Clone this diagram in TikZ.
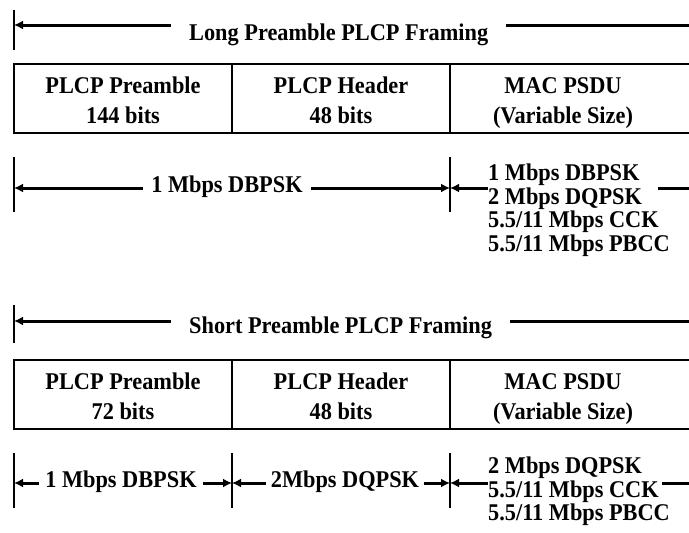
\documentclass[tikz,border=0pt]{standalone}
\usepackage{fontspec}
\setmainfont{Liberation Serif}[FakeStretch=0.93]
\usetikzlibrary{arrows.meta,calc}
\newcommand\cellTopStrut{\rule{0pt}{25pt}}
\newcommand\cellBotStrut{\rule[-6pt]{0pt}{6pt}}
\begin{document}
\begin{tikzpicture}[x=1pt,y=-1pt,
  lbl/.style={font=\bfseries\fontsize{24}{30}\selectfont, inner ysep=0pt},
  cell/.style={line width=2pt, minimum height=69pt, minimum width=218pt, outer sep=0pt,
    font=\bfseries\fontsize{24}{30}\selectfont, align=center, inner sep=0pt},
  boxline/.style={line width=2pt},
  tickline/.style={line width=1.5pt},
  dim/.style={line width=3pt, -{Latex[length=9pt,width=9pt]}},
  bar/.style={line width=3pt},
  list/.style={font=\bfseries\fontsize{24}{23.5}\selectfont, align=left, inner sep=0pt, anchor=north west},
]
\useasboundingbox (0,0) rectangle (689,533);

% ---------- Long preamble ----------
\coordinate (k1) at (14,25);
\coordinate (k1t) at (14,10);
\coordinate (k1b) at (14,50);
\coordinate (e1) at (689,25);
\draw[tickline] (k1t) -- (k1b);
\node[lbl, anchor=base west, inner xsep=18pt] (t1) at (171,40) {Long Preamble PLCP Framing};
\draw[dim] (t1.west |- k1) -- (k1);
\draw[bar] (t1.east |- k1) -- (e1);

\node[cell, draw] (c11) at (123,98.5) {\cellTopStrut PLCP Preamble\\144 bits\cellBotStrut};
\node[cell, draw] (c12) at (341,98.5) {\cellTopStrut PLCP Header\\48 bits\cellBotStrut};
\node[cell, minimum width=226pt] (c13) at (563,98.5) {\cellTopStrut MAC PSDU\\(Variable Size)\cellBotStrut};
\coordinate (c1nt) at (689,64);
\coordinate (c1sb) at (689,133);
\draw[boxline] (c12.north east) -- (c1nt);
\draw[boxline] (c12.south east) -- (c1sb);

% ---------- Row 1 ----------
\coordinate (m1a) at (14,188);
\coordinate (m1b) at (450,188);
\coordinate (m1at) at (14,157);
\coordinate (m1ab) at (14,212);
\coordinate (m1bt) at (450,157);
\coordinate (m1bb) at (450,212);
\coordinate (m1c) at (658,188);
\coordinate (m1d) at (689,188);
\draw[tickline] (m1at) -- (m1ab);
\draw[tickline] (m1bt) -- (m1bb);
\node[lbl, inner xsep=8pt] (d1) at (227,186.5) {1 Mbps DBPSK};
\draw[dim] (d1.west |- m1a) -- (m1a);
\draw[dim] (d1.east |- m1a) -- (m1b);
\node[list] (s1) at (488,164) {1 Mbps DBPSK\\2 Mbps DQPSK\\5.5/11 Mbps CCK\\5.5/11 Mbps PBCC};
\draw[dim] (s1.west |- m1b) -- (m1b);
\draw[bar] (m1c) -- (m1d);

% ---------- Short preamble ----------
\coordinate (k2) at (14,321);
\coordinate (k2t) at (14,305);
\coordinate (k2b) at (14,343);
\coordinate (e2) at (689,321);
\draw[tickline] (k2t) -- (k2b);
\node[lbl, anchor=base west, inner xsep=18pt] (t2) at (171,333) {Short Preamble PLCP Framing};
\draw[dim] (t2.west |- k2) -- (k2);
\draw[bar] (t2.east |- k2) -- (e2);

\node[cell, draw] (c21) at (123,394.5) {\cellTopStrut PLCP Preamble\\72 bits\cellBotStrut};
\node[cell, draw] (c22) at (341,394.5) {\cellTopStrut PLCP Header\\48 bits\cellBotStrut};
\node[cell, minimum width=226pt] (c23) at (563,394.5) {\cellTopStrut MAC PSDU\\(Variable Size)\cellBotStrut};
\coordinate (c2nt) at (689,360);
\coordinate (c2sb) at (689,429);
\draw[boxline] (c22.north east) -- (c2nt);
\draw[boxline] (c22.south east) -- (c2sb);

% ---------- Row 3 ----------
\coordinate (m3a) at (14,483);
\coordinate (m3b) at (232,483);
\coordinate (m3c) at (450,483);
\coordinate (m3at) at (14,453);
\coordinate (m3ab) at (14,508);
\coordinate (m3bt) at (232,453);
\coordinate (m3bb) at (232,508);
\coordinate (m3ct) at (450,453);
\coordinate (m3cb) at (450,508);
\coordinate (m3d) at (662,483);
\coordinate (m3e) at (689,483);
\draw[tickline] (m3at) -- (m3ab);
\draw[tickline] (m3bt) -- (m3bb);
\draw[tickline] (m3ct) -- (m3cb);
\node[lbl, inner xsep=6pt] (d31) at (121,481.5) {1 Mbps DBPSK};
\draw[dim] (d31.west |- m3a) -- (m3a);
\draw[dim] (d31.east |- m3a) -- (m3b);
\node[lbl, inner xsep=5pt] (d32) at (345,481.5) {2Mbps DQPSK};
\draw[dim] (d32.west |- m3a) -- (m3b);
\draw[dim] (d32.east |- m3a) -- (m3c);
\node[list] (s3) at (488,457) {2 Mbps DQPSK\\5.5/11 Mbps CCK\\5.5/11 Mbps PBCC};
\draw[dim] (s3.west |- m3c) -- (m3c);
\draw[bar] (m3d) -- (m3e);
\end{tikzpicture}
\end{document}
